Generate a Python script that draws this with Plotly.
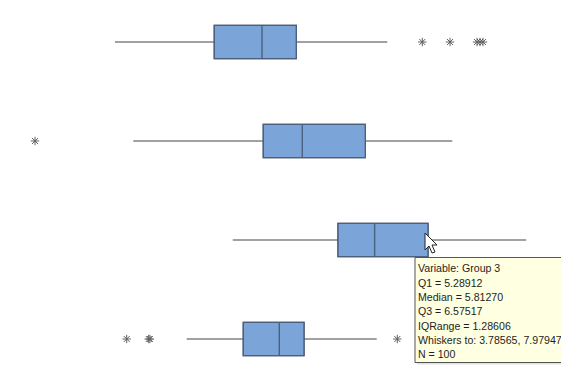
import plotly.graph_objects as go

# ---- data ----
groups = ["Group 1", "Group 2", "Group 3", "Group 4"]
positions = [4, 3, 2, 1]
q1 = [3.5215, 4.2217, 5.28912, 3.9359]
median = [4.2031, 4.7790, 5.81270, 4.4503]
q3 = [4.6932, 5.6792, 6.57517, 4.8033]
lowerfence = [2.1025, 2.3639, 3.78565, 3.1271]
upperfence = [5.9936, 6.9224, 7.97947, 5.8421]

outlier_group = ["Group 1", "Group 1", "Group 1", "Group 1", "Group 1",
                 "Group 2",
                 "Group 4", "Group 4", "Group 4", "Group 4"]
outlier_value = [6.4937, 6.8896, 7.2754, 7.3183, 7.3612,
                 0.9593,
                 2.2697, 2.5840, 2.6010, 6.1365]

tooltip_lines = [
    "Variable: Group 3",
    "Q1 = 5.28912",
    "Median = 5.81270",
    "Q3 = 6.57517",
    "IQRange = 1.28606",
    "Whiskers to: 3.78565, 7.97947",
    "N = 100",
]

PAGE_W, PAGE_H = 569, 376
OFF = 8  # default body margin of the html page
W, H = PAGE_W - OFF, PAGE_H - OFF
pos_of = dict(zip(groups, positions))

fig = go.Figure()

# whiskers (gray)
fig.add_trace(go.Box(
    orientation="h", y=positions, q1=q1, median=median, q3=q3,
    lowerfence=lowerfence, upperfence=upperfence,
    width=0.335, whiskerwidth=0, boxpoints=False,
    fillcolor="rgba(0,0,0,0)", line=dict(color="#454545", width=1.2),
    hoverinfo="skip", showlegend=False,
))
# boxes (blue)
fig.add_trace(go.Box(
    orientation="h", y=positions, q1=q1, median=median, q3=q3,
    lowerfence=q1, upperfence=q3,
    width=0.335, whiskerwidth=0, boxpoints=False,
    fillcolor="#7ba4d9", line=dict(color="#4b607e", width=1.4),
    hoverinfo="skip", showlegend=False,
))
# outliers
fig.add_trace(go.Scatter(
    x=outlier_value, y=[pos_of[g] for g in outlier_group], mode="markers",
    marker=dict(symbol="asterisk-open", size=7, color="#606060",
                line=dict(color="#606060", width=1)),
    hoverinfo="skip", showlegend=False,
))

# axes: pixel mapping derived from Group 3 tooltip values
px_per_unit = 69.98
x0 = 5.28912 + (OFF - 338) / px_per_unit
x1 = 5.28912 + (PAGE_W - 338) / px_per_unit
ppu_y = 99.0
ymin = 4 - (PAGE_H - 42) / ppu_y
ymax = ymin + H / ppu_y

fig.update_xaxes(range=[x0, x1], visible=False, showgrid=False, zeroline=False)
fig.update_yaxes(range=[ymin, ymax], visible=False, showgrid=False, zeroline=False)

def px(x):
    return (x - OFF) / W

def py(y):
    return 1 - (y - OFF) / H

shapes = []
# tooltip shadow and box
shapes.append(dict(type="rect", xref="paper", yref="paper",
                   x0=px(417), x1=px(564), y0=py(259.5), y1=py(364.5),
                   fillcolor="rgba(0,0,0,0.12)", line=dict(width=0), layer="above"))
shapes.append(dict(type="rect", xref="paper", yref="paper",
                   x0=px(415), x1=px(562.5), y0=py(257.5), y1=py(362.5),
                   fillcolor="#ffffe1", line=dict(color="#555555", width=1), layer="above"))
# mouse cursor
cx, cy = 425, 233
pts = [(0, 0), (0, 17), (4, 13), (7, 20), (10, 19), (7, 12), (12, 12)]
path = "M " + " L ".join(f"{px(cx + a)},{py(cy + b)}" for a, b in pts) + " Z"
shapes.append(dict(type="path", xref="paper", yref="paper", path=path,
                   fillcolor="white", line=dict(color="#222222", width=1), layer="above"))

annotations = []
for i, line in enumerate(tooltip_lines):
    annotations.append(dict(
        xref="paper", yref="paper", x=px(416), y=py(268.3 + i * 14.3),
        xanchor="left", yanchor="middle", align="left", showarrow=False,
        text=line,
        font=dict(family="Liberation Sans, Arial, sans-serif", size=10.6, color="#1e1e1e"),
    ))

fig.update_layout(
    width=W, height=H,
    margin=dict(l=0, r=0, t=0, b=0),
    paper_bgcolor="white", plot_bgcolor="white",
    boxmode="overlay",
    shapes=shapes,
    annotations=annotations,
)

fig.write_html("out.html")
